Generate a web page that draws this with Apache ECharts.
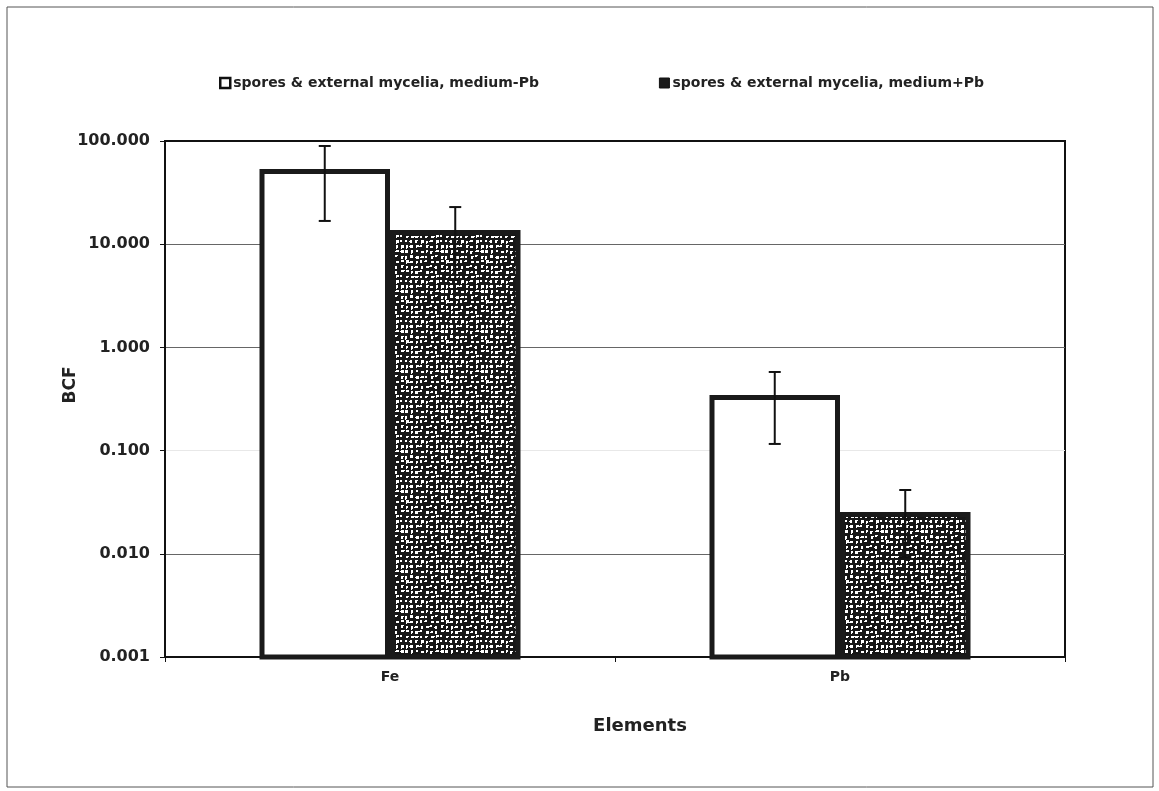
<!DOCTYPE html>
<html><head><meta charset="utf-8">
<script src="https://cdn.jsdelivr.net/npm/echarts@6/dist/echarts.min.js"></script>
<style>html,body{margin:0;padding:0;background:#fff}#c{width:1159px;height:791px}</style>
</head><body><div id="c"></div>
<script>
const categories = ['Fe', 'Pb'];
const seriesNames = ['spores & external mycelia, medium-Pb', 'spores & external mycelia, medium+Pb'];
const valuesMinusPb = [53.6, 0.346];
const errorsMinusPb = [[16.8, 89.5], [0.116, 0.578]];
const valuesPlusPb = [13.7, 0.0254];
const errorsPlusPb = [[4.5, 22.9], [0.0093, 0.0415]];
const yMin = 0.001, yMax = 100;

// speckle texture (style only)
function makePattern() {
  const s = 40, cv = document.createElement('canvas');
  cv.width = s; cv.height = s;
  const g = cv.getContext('2d');
  g.fillStyle = '#161616'; g.fillRect(0, 0, s, s);
  let seed = 987;
  const rnd = () => { seed = (seed * 1103515245 + 12345) & 0x7fffffff; return seed / 0x7fffffff; };
  g.fillStyle = '#fff';
  for (let cy = 0; cy < s; cy += 5) {
    for (let cx = 0; cx < s; cx += 5) {
      const x = cx + Math.floor(rnd() * 2), y = cy + Math.floor(rnd() * 2);
      const w = 2 + Math.floor(rnd() * 2), h = 2 + Math.floor(rnd() * 1.6);
      g.fillRect(x, y, w, h);
      const d = Math.floor(rnd() * 4);
      if (d === 0) g.fillRect(x + w, y, 1, 1);
      else if (d === 1) g.fillRect(x, y + h, 1, 1);
      else if (d === 2) g.fillRect(x - 1, y + 1, 1, 1);
    }
  }
  return cv;
}
const patFill = { image: makePattern(), repeat: 'repeat' };

const chart = echarts.init(document.getElementById('c'));
const BW = 0.29;
function barSeries(name, vals, side, fill) {
  return {
    name: name, type: 'custom', z: 5,
    itemStyle: { color: fill },
    data: vals.map((v, i) => [i, v]),
    encode: { x: 0, y: 1 },
    renderItem: function (params, api) {
      const i = api.value(0);
      const catW = api.size([1, 1])[0];
      const w = catW * BW;
      const top = api.coord([i, api.value(1)]);
      const base = api.coord([i, yMin]);
      const lw = 5;
      const x0 = side < 0 ? top[0] - w : top[0];
      return {
        type: 'rect',
        shape: { x: x0 + lw / 2, y: top[1] + lw / 2, width: w - lw, height: base[1] - top[1] - lw / 2 },
        style: { fill: fill, stroke: '#1a1a1a', lineWidth: lw }
      };
    }
  };
}
function errSeries(errs, side) {
  return {
    type: 'custom', silent: true, z: 10,
    data: errs.map((e, i) => [i, e[0], e[1]]),
    renderItem: function (params, api) {
      const i = api.value(0);
      const catW = api.size([1, 1])[0];
      const off = side * catW * BW / 2;
      const lo = api.coord([i, api.value(1)]);
      const hi = api.coord([i, api.value(2)]);
      const x = lo[0] + off, cap = 6;
      const st = { stroke: '#111', lineWidth: 2 };
      return { type: 'group', children: [
        { type: 'line', shape: { x1: x, y1: lo[1], x2: x, y2: hi[1] }, style: st },
        { type: 'line', shape: { x1: x - cap, y1: lo[1], x2: x + cap, y2: lo[1] }, style: st },
        { type: 'line', shape: { x1: x - cap, y1: hi[1], x2: x + cap, y2: hi[1] }, style: st }
      ]};
    }
  };
}
const font = 'DejaVu Sans';
chart.setOption({
  animation: false,
  backgroundColor: '#fff',
  textStyle: { fontFamily: font, color: '#222' },
  graphic: [
    { type: 'rect', shape: { x: 7, y: 7, width: 1146, height: 780 }, style: { fill: 'none', stroke: '#555', lineWidth: 1 }, silent: true },
    { type: 'text', x: 640, y: 726, style: { text: 'Elements', fill: '#222', font: 'bold 18px "DejaVu Sans"', align: 'center', verticalAlign: 'middle' }, silent: true },
    { type: 'text', x: 71, y: 385, rotation: Math.PI / 2, style: { text: 'BCF', fill: '#222', font: 'bold 17px "DejaVu Sans"', align: 'center', verticalAlign: 'middle' }, silent: true }
  ],
  legend: {
    top: 71, left: 214, itemGap: 120, itemWidth: 10, itemHeight: 10,
    textStyle: { fontSize: 14, fontWeight: 'bold', color: '#222', fontFamily: font, padding: [0, 0, 0, -2] },
    data: [
      { name: seriesNames[0], icon: 'rect', itemStyle: { color: '#fff', borderColor: '#111', borderWidth: 2.5 } },
      { name: seriesNames[1], icon: 'rect', itemStyle: { color: '#1a1a1a', borderColor: '#111', borderWidth: 1 } }
    ]
  },
  grid: { left: 165, right: 94, top: 141, bottom: 134, show: true, borderColor: '#111', borderWidth: 2, containLabel: false },
  xAxis: {
    type: 'category', data: categories,
    axisLine: { lineStyle: { color: '#111', width: 2 } },
    axisTick: { show: true, length: 5, lineStyle: { color: '#111' } },
    axisLabel: { fontSize: 14, fontWeight: 'bold', color: '#222', margin: 13, fontFamily: font }
  },
  yAxis: {
    type: 'log', logBase: 10, min: yMin, max: yMax,
    axisLine: { show: true, lineStyle: { color: '#111', width: 2 } },
    axisTick: { show: true, inside: false, length: 5, lineStyle: { color: '#111' } },
    axisLabel: { fontSize: 16, fontWeight: 'bold', color: '#222', margin: 15, fontFamily: font, formatter: v => Number(v).toFixed(3) },
    splitLine: { show: true, lineStyle: { color: ['#555', '#666', '#e8e8e8', '#666', '#666', '#111'], width: 1 } }
  },
  series: [
    barSeries(seriesNames[0], valuesMinusPb, -1, '#fff'),
    barSeries(seriesNames[1], valuesPlusPb, 1, patFill),
    errSeries(errorsMinusPb, -1),
    errSeries(errorsPlusPb, 1)
  ]
});
</script></body></html>
